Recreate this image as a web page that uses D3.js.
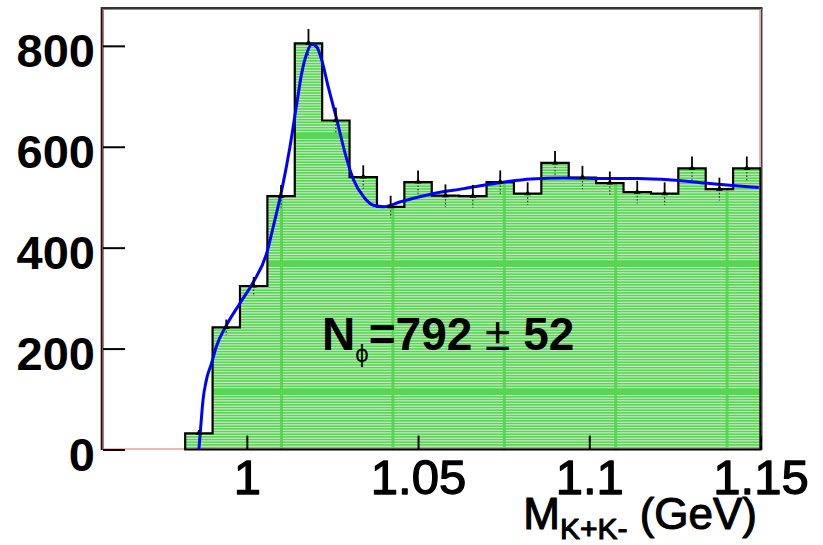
<!DOCTYPE html>
<html><head><meta charset="utf-8">
<script src="https://cdn.jsdelivr.net/npm/d3@7"></script>
<style>body{margin:0;background:#fff}svg{display:block}</style>
</head><body>
<svg id="c" width="823" height="545"></svg>
<script>
// ---------------- data ----------------
const binEdges = [0.982,0.990,0.998,1.006,1.014,1.022,1.030,1.038,1.046,1.054,1.062,1.070,1.078,1.086,1.094,1.102,1.110,1.118,1.126,1.134,1.142,1.150];
const counts   = [32,242,324,502,805,652,540,481,530,503,502,530,507,568,539,528,510,507,557,516,557];
const fitMass  = [0.9860,0.9864,0.9872,0.9882,0.9897,0.9911,0.9941,0.9980,1.0019,1.0058,1.0077,1.0102,1.0126,1.0146,1.0160,1.0175,1.0190,1.0204,1.0219,1.0238,1.0263,1.0287,1.0312,1.0341,1.0370,1.0400,1.0449,1.0537,1.0634,1.0732,1.0830,1.0928,1.1045,1.1143,1.1241,1.1338,1.1436,1.1495];
const fitCounts= [0,33,98,138,171,204,247,290,332,389,441,514,600,686,745,785,803,798,771,718,653,587,534,501,484,481,491,506,517,528,536,538,537,537,534,528,522,519];
const xTicks = [1, 1.05, 1.1, 1.15];
const xTickLabels = ["1","1.05","1.1","1.15"];
const yTicks = [0,200,400,600,800];
const xDomain = [0.958, 1.15];
const yDomain = [0, 875];

// ---------------- layout ----------------
const L = 103, R = 760.5, T = 8, B = 449.5;
const FONT = "'Liberation Sans', Arial, Helvetica, sans-serif";
const svg = d3.select("#c");
const x = d3.scaleLinear(xDomain, [L, R]);
const y = d3.scaleLinear(yDomain, [B, T]);

// fill pattern (ROOT-like striped green)
const defs = svg.append("defs");
const PW = 111.4, PH = 128;
const pat = defs.append("pattern").attr("id","hatch").attr("patternUnits","userSpaceOnUse")
  .attr("x",280).attr("y",262).attr("width",PW).attr("height",PH);
pat.append("rect").attr("width",PW).attr("height",PH).attr("fill","#59d454");
d3.range(5, PH-1, 2.67).forEach(v =>
  pat.append("rect").attr("x",3).attr("y",v).attr("width",PW-3).attr("height",1).attr("fill","#d4f3d2"));

// step vertices
const steps = [];
counts.forEach((c,i) => { steps.push([binEdges[i], c]); steps.push([binEdges[i+1], c]); });

// filled area
svg.append("path")
  .attr("d", d3.area().x(d=>x(d[0])).y0(y(0)).y1(d=>y(d[1]))(steps))
  .attr("fill","url(#hatch)");

// frame (red pad frame)
svg.append("rect").attr("x",L+0.5).attr("y",T+1.5).attr("width",R-L-1).attr("height",B-T-2)
  .attr("fill","none").attr("stroke","#e06a6a").attr("stroke-width",1);

// error bars: lower half (seen through fill, dotted)
const centers = counts.map((c,i)=> (binEdges[i]+binEdges[i+1])/2);
const errs = counts.map(c=>Math.sqrt(c));
svg.append("g").selectAll("line").data(counts).join("line")
  .attr("x1",(c,i)=>x(centers[i])).attr("x2",(c,i)=>x(centers[i]))
  .attr("y1",c=>y(c)).attr("y2",(c,i)=>y(c-errs[i]))
  .attr("stroke","#333").attr("stroke-width",1.2).attr("stroke-dasharray","1.5,2");

// histogram outline
const outline = [[binEdges[0],0], ...steps, [binEdges[binEdges.length-1],0]];
svg.append("path")
  .attr("d", d3.line().x(d=>x(d[0])).y(d=>y(d[1]))(outline) + "Z")
  .attr("fill","none").attr("stroke","#000").attr("stroke-width",2.2).attr("stroke-linejoin","miter");

// fit curve
svg.append("path")
  .datum(fitMass.map((m,i)=>[m, fitCounts[i]]))
  .attr("d", d3.line().x(d=>x(d[0])).y(d=>y(d[1])).curve(d3.curveMonotoneX))
  .attr("fill","none").attr("stroke","#0000ff").attr("stroke-width",3);

// error bars upper half + markers
svg.append("g").selectAll("line").data(counts).join("line")
  .attr("x1",(c,i)=>x(centers[i])).attr("x2",(c,i)=>x(centers[i]))
  .attr("y1",c=>y(c)).attr("y2",(c,i)=>y(c+errs[i]))
  .attr("stroke","#000").attr("stroke-width",1.8);
svg.append("g").selectAll("path").data(counts).join("path")
  .attr("transform",(c,i)=>`translate(${x(centers[i])},${y(c)})`)
  .attr("d","M-3.5,1.5 L0,-3.5 L3.5,1.5 Z")
  .attr("fill","#000");

// axes frame lines
svg.append("line").attr("x1",L-1.3).attr("x2",L-1.3).attr("y1",T-1).attr("y2",B+0.5).attr("stroke","#111").attr("stroke-width",2);
svg.append("line").attr("x1",L-2).attr("x2",R+2).attr("y1",T).attr("y2",T).attr("stroke","#333").attr("stroke-width",2);
svg.append("line").attr("x1",R+1.2).attr("x2",R+1.2).attr("y1",T).attr("y2",B+0.5).attr("stroke","#444").attr("stroke-width",1.6);

// Y axis
const gy = svg.append("g").attr("transform",`translate(${L},0)`)
  .call(d3.axisLeft(y).tickValues(yTicks).tickSize(-22).tickPadding(8).tickFormat(d3.format("d")));
gy.select(".domain").remove();
gy.selectAll(".tick line").attr("stroke","#000").attr("stroke-width",2);
gy.selectAll(".tick text").attr("dy","0.45em")
  .style("font-family",FONT).style("font-weight","bold")
  .style("font-size","47px").attr("fill","#000");

// X axis
const gx = svg.append("g").attr("transform",`translate(0,${B})`)
  .call(d3.axisBottom(x).tickValues(xTicks).tickSize(-14).tickFormat((d,i)=>xTickLabels[i]));
gx.select(".domain").remove();
gx.selectAll(".tick line").attr("stroke","#000").attr("stroke-width",2);
gx.selectAll(".tick text").attr("y",44.5).attr("dy",null)
  .style("font-family",FONT).style("font-weight","normal")
  .style("font-size","49px").attr("fill","#000")
  .attr("stroke","#000").attr("stroke-width",1.3).attr("stroke-linejoin","round");

// X title
const title = svg.append("text").attr("x",757).attr("y",529).attr("text-anchor","end")
  .style("font-family",FONT).style("font-weight","normal").attr("fill","#000")
  .attr("stroke","#000").attr("stroke-width",1.1).attr("stroke-linejoin","round");
title.append("tspan").style("font-size","44px").text("M");
title.append("tspan").style("font-size","30px").attr("dy",10).text("K+K-");
title.append("tspan").style("font-size","44px").attr("dy",-10).text(" (GeV)");

// annotation
const ann = svg.append("text").attr("x",322).attr("y",350)
  .style("font-family",FONT).style("font-weight","bold")
  .style("font-size","46px").attr("fill","#000");
ann.append("tspan").text("N");
ann.append("tspan").attr("dy",12).style("font-size","24px").style("font-weight","normal").text("\u03d5");
ann.append("tspan").attr("dy",-12).text("=792");
ann.append("tspan").style("font-weight","normal").text(" \u00b1 ");
ann.append("tspan").text("52");
</script>
</body></html>
